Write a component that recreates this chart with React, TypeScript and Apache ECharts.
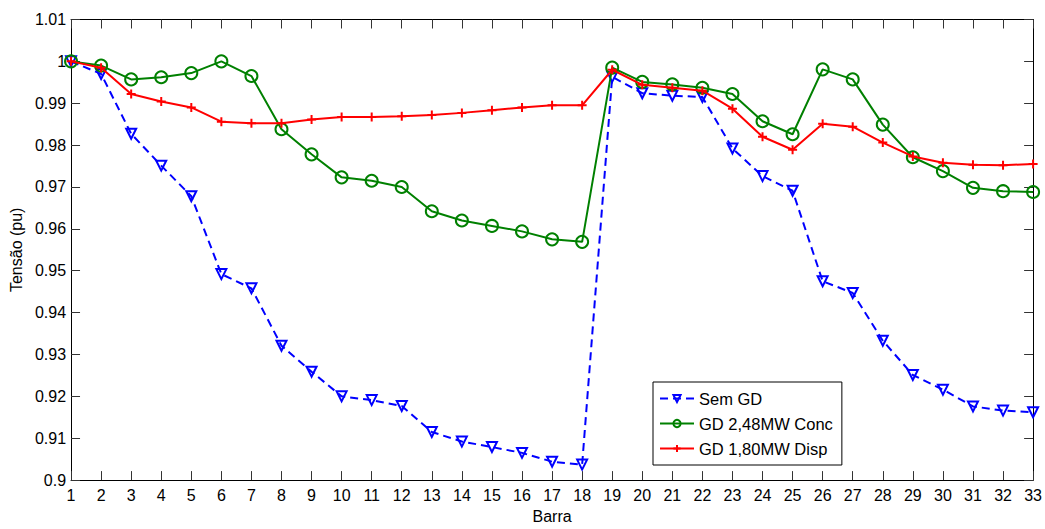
import React, { useEffect, useRef } from "react";
import * as echarts from "echarts";

const barras = [1, 2, 3, 4, 5, 6, 7, 8, 9, 10, 11, 12, 13, 14, 15, 16, 17, 18, 19, 20, 21, 22, 23, 24, 25, 26, 27, 28, 29, 30, 31, 32, 33];

const semGD = [1.0, 0.997, 0.9827, 0.9751, 0.9678, 0.9492, 0.9458, 0.9321, 0.9259, 0.92, 0.9191, 0.9177, 0.9115, 0.9092, 0.9079, 0.9065, 0.9044, 0.9037, 0.9963, 0.9924, 0.9918, 0.9915, 0.9792, 0.9726, 0.9691, 0.9475, 0.9447, 0.9333, 0.9251, 0.9216, 0.9176, 0.9166, 0.9162];

const gdConc = [1.0, 0.999, 0.9957, 0.9962, 0.9972, 1.0, 0.9965, 0.9838, 0.9778, 0.9723, 0.9715, 0.97, 0.9642, 0.962, 0.9607, 0.9594, 0.9575, 0.9569, 0.9985, 0.9951, 0.9945, 0.9937, 0.9922, 0.9857, 0.9826, 0.9981, 0.9957, 0.9849, 0.9771, 0.9738, 0.9698, 0.969, 0.9688];

const gdDisp = [1.0, 0.9985, 0.9922, 0.9904, 0.989, 0.9856, 0.9852, 0.9852, 0.9861, 0.9867, 0.9867, 0.9869, 0.9872, 0.9877, 0.9883, 0.989, 0.9895, 0.9895, 0.998, 0.9944, 0.9937, 0.993, 0.9887, 0.982, 0.9789, 0.9851, 0.9844, 0.9806, 0.9773, 0.9758, 0.9753, 0.9752, 0.9755];

const seriesNames = ["Sem GD", "GD 2,48MW Conc", "GD 1,80MW Disp"];

const FONT = "'Liberation Sans', Arial, Helvetica, sans-serif";

export default function App() {
  const ref = useRef<HTMLDivElement>(null);
  useEffect(() => {
    if (!ref.current) return;
    const chart = echarts.init(ref.current, null, { renderer: "svg" });
    const pair = (arr: number[]) => barras.map((b, i) => [b, arr[i]]);
    const axisCommon = {
      type: "value" as const,
      axisLine: { show: true, lineStyle: { color: "#000", width: 1 } },
      axisTick: { show: true, inside: true, length: 9, lineStyle: { color: "#333", width: 1 } },
      splitLine: { show: false },
    };
    chart.setOption({
      animation: false,
      backgroundColor: "#fff",
      textStyle: { fontFamily: FONT },
      grid: { left: 67, right: 11, top: 19.5, bottom: 38, containLabel: false },
      xAxis: [
        {
          ...axisCommon,
          position: "bottom",
          min: 1,
          max: 33,
          interval: 1,
          name: "Barra",
          nameLocation: "middle",
          nameGap: 21,
          nameTextStyle: { fontSize: 16, color: "#000", fontFamily: FONT },
          axisLabel: { fontSize: 16, color: "#000", margin: 7, fontFamily: FONT },
        },
        {
          ...axisCommon,
          position: "top",
          min: 1,
          max: 33,
          interval: 1,
          axisLabel: { show: false },
        },
      ],
      yAxis: [
        {
          ...axisCommon,
          position: "left",
          min: 0.9,
          max: 1.01,
          interval: 0.01,
          name: "Tensão (pu)",
          nameLocation: "middle",
          nameGap: 44,
          nameTextStyle: { fontSize: 16, color: "#000", fontFamily: FONT },
          axisLabel: {
            fontSize: 16,
            color: "#000",
            margin: 5,
            fontFamily: FONT,
            formatter: (v: number) => String(parseFloat(v.toFixed(2))),
          },
        },
        {
          ...axisCommon,
          position: "right",
          min: 0.9,
          max: 1.01,
          interval: 0.01,
          axisLabel: { show: false },
        },
      ],
      legend: {
        show: true,
        orient: "vertical",
        left: 653,
        top: 382,
        data: seriesNames,
        backgroundColor: "#fff",
        borderColor: "#000",
        borderWidth: 1,
        borderRadius: 0,
        padding: [8, 9, 8, 6],
        itemWidth: 34,
        itemHeight: 9,
        itemGap: 8,
        textStyle: { fontSize: 16.5, lineHeight: 14, color: "#000", fontFamily: FONT },
      },
      series: [
        {
          name: seriesNames[0],
          type: "line",
          data: pair(semGD),
          clip: false,
          symbol: "triangle",
          symbolRotate: 180,
          symbolSize: 10,
          lineStyle: { color: "#0000ff", width: 2, type: [8, 5] },
          itemStyle: { color: "transparent", borderColor: "#0000ff", borderWidth: 2 },
          z: 3,
        },
        {
          name: seriesNames[1],
          type: "line",
          data: pair(gdConc),
          clip: false,
          symbol: "circle",
          symbolSize: 12,
          lineStyle: { color: "#008000", width: 2 },
          itemStyle: { color: "transparent", borderColor: "#008000", borderWidth: 2 },
          z: 4,
        },
        {
          name: seriesNames[2],
          type: "line",
          data: pair(gdDisp),
          clip: false,
          symbol: "path://M5,0L5,10M0,5L10,5",
          symbolSize: 9,
          lineStyle: { color: "#ff0000", width: 2 },
          itemStyle: { color: "#ff0000", borderColor: "#ff0000", borderWidth: 2 },
          z: 5,
        },
      ],
    });
    return () => chart.dispose();
  }, []);
  return <div ref={ref} style={{ width: 1045, height: 529, position: "absolute", left: 0, top: 0 }} />;
}
